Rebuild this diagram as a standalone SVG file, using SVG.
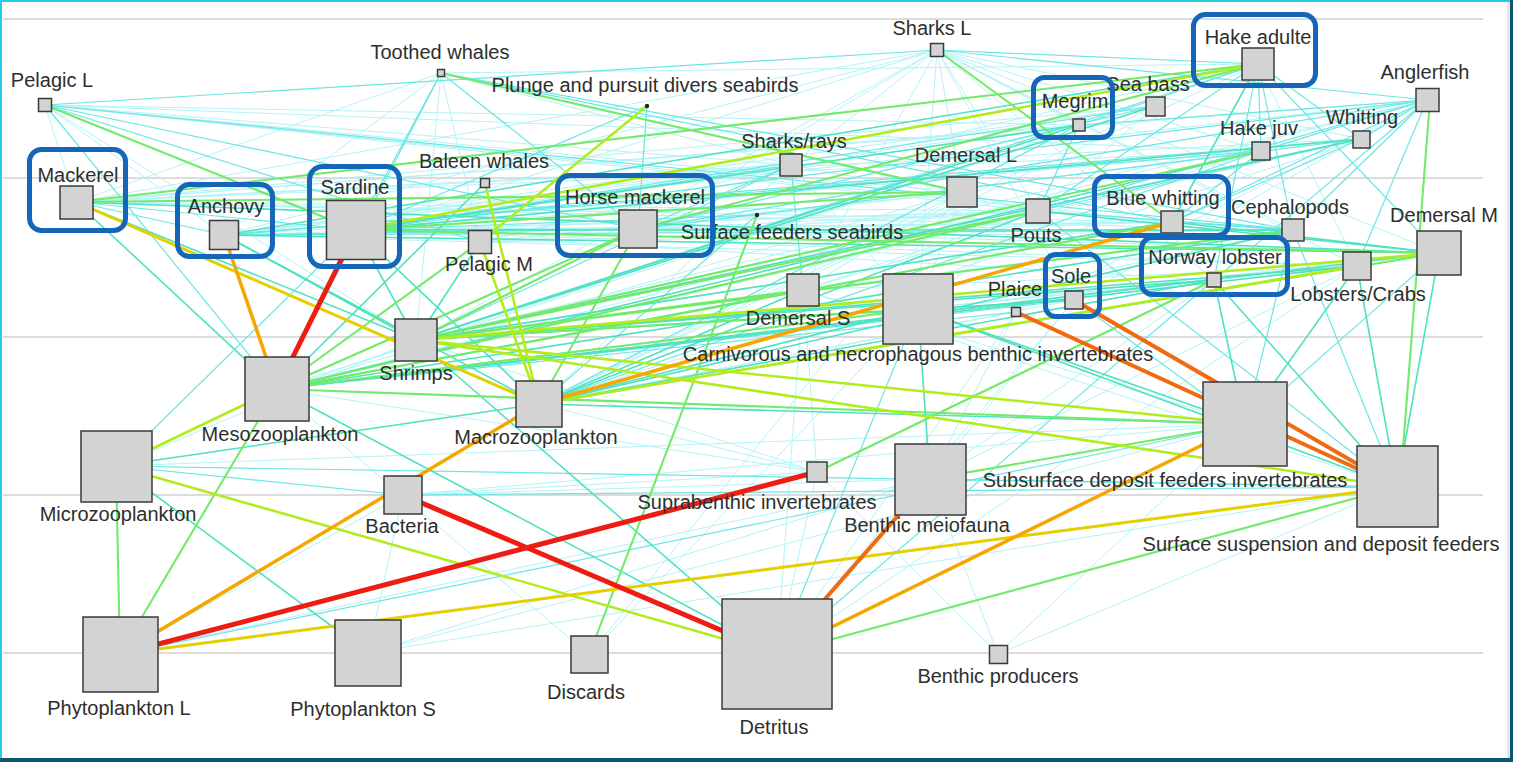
<svg xmlns="http://www.w3.org/2000/svg" width="1513" height="762" viewBox="0 0 1513 762">
<style>
.grid{stroke:#dcdcdc;stroke-width:2}
.c1{stroke:#a8f2f5;stroke-width:1;opacity:.85}
.c2{stroke:#6ae6e4;stroke-width:1.2}
.c3{stroke:#4ee2c0;stroke-width:1.6}
.c4{stroke:#72ea6a;stroke-width:2.1}
.c5{stroke:#b2ec1e;stroke-width:2.6}
.c6{stroke:#e4d000;stroke-width:3}
.c7{stroke:#f6a600;stroke-width:3.5}
.c8{stroke:#f06a12;stroke-width:4}
.c9{stroke:#ee1c12;stroke-width:5}
.n rect{fill:#d3d3d3;stroke:#3a3a3a;stroke-width:1.5}
.n circle{fill:#222}
text{font-family:"Liberation Sans",Arial,sans-serif;font-size:20px;fill:#2e2e2e;text-anchor:middle}
.hl{fill:none;stroke:#1565b8;stroke-width:5}
</style>
<rect x="0" y="0" width="1513" height="762" fill="#0e5574"/>
<rect x="0" y="0" width="1510" height="758" fill="#ffffff"/>
<line x1="1508.5" y1="0" x2="1508.5" y2="758" stroke="#dedede" stroke-width="2"/>
<line x1="0" y1="1" x2="1510" y2="1" stroke="#22cfe2" stroke-width="2"/>
<line x1="1" y1="0" x2="1" y2="758" stroke="#22cfe2" stroke-width="2"/>
<g id="grid">
<line class="grid" x1="3" y1="19" x2="1483" y2="19"/>
<line class="grid" x1="3" y1="178" x2="1483" y2="178"/>
<line class="grid" x1="3" y1="337" x2="1483" y2="337"/>
<line class="grid" x1="3" y1="495" x2="1483" y2="495"/>
<line class="grid" x1="3" y1="653" x2="1483" y2="653"/>
</g>
<g id="connectors" fill="none">
<g class="c1">
<line x1="45" y1="105" x2="76" y2="202"/><line x1="45" y1="105" x2="224" y2="235"/><line x1="45" y1="105" x2="416" y2="340"/><line x1="45" y1="105" x2="791" y2="165"/><line x1="45" y1="105" x2="962" y2="192"/><line x1="45" y1="105" x2="1172" y2="222"/><line x1="45" y1="105" x2="1261" y2="151"/><line x1="45" y1="105" x2="1038" y2="211"/><line x1="45" y1="105" x2="1079" y2="125"/>
<line x1="441" y1="73" x2="76" y2="202"/><line x1="441" y1="73" x2="224" y2="235"/><line x1="441" y1="73" x2="480" y2="242"/><line x1="441" y1="73" x2="1258" y2="64"/><line x1="441" y1="73" x2="1038" y2="211"/><line x1="441" y1="73" x2="416" y2="340"/><line x1="441" y1="73" x2="791" y2="165"/>
<line x1="937" y1="50" x2="791" y2="165"/><line x1="937" y1="50" x2="962" y2="192"/><line x1="937" y1="50" x2="1038" y2="211"/><line x1="937" y1="50" x2="1079" y2="125"/><line x1="937" y1="50" x2="1361" y2="139"/><line x1="937" y1="50" x2="1261" y2="151"/><line x1="937" y1="50" x2="1293" y2="230"/><line x1="937" y1="50" x2="1439" y2="253"/><line x1="937" y1="50" x2="638" y2="229"/><line x1="937" y1="50" x2="356" y2="230"/><line x1="937" y1="50" x2="76" y2="202"/><line x1="937" y1="50" x2="803" y2="290"/><line x1="937" y1="50" x2="918" y2="309"/><line x1="937" y1="50" x2="416" y2="340"/><line x1="937" y1="50" x2="224" y2="235"/><line x1="937" y1="50" x2="1357" y2="266"/><line x1="937" y1="50" x2="1214" y2="280"/><line x1="937" y1="50" x2="1074" y2="300"/>
<line x1="1258" y1="64" x2="1357" y2="266"/><line x1="1258" y1="64" x2="480" y2="242"/><line x1="1258" y1="64" x2="539" y2="404"/>
<line x1="1427" y1="100" x2="76" y2="202"/><line x1="1427" y1="100" x2="224" y2="235"/><line x1="1427" y1="100" x2="803" y2="290"/><line x1="1427" y1="100" x2="1074" y2="300"/><line x1="1427" y1="100" x2="1016" y2="312"/>
<line x1="1361" y1="139" x2="277" y2="389"/><line x1="1361" y1="139" x2="539" y2="404"/>
<line x1="1155" y1="106" x2="1038" y2="211"/><line x1="1155" y1="106" x2="224" y2="235"/><line x1="1155" y1="106" x2="539" y2="404"/>
<line x1="791" y1="165" x2="76" y2="202"/><line x1="791" y1="165" x2="918" y2="309"/><line x1="791" y1="165" x2="1038" y2="211"/><line x1="791" y1="165" x2="224" y2="235"/>
<line x1="962" y1="192" x2="224" y2="235"/><line x1="962" y1="192" x2="803" y2="290"/><line x1="962" y1="192" x2="918" y2="309"/><line x1="962" y1="192" x2="1074" y2="300"/>
<line x1="403" y1="495" x2="817" y2="472"/><line x1="403" y1="495" x2="930" y2="479"/><line x1="403" y1="495" x2="1245" y2="424"/>
<line x1="116" y1="466" x2="1245" y2="424"/><line x1="116" y1="466" x2="416" y2="340"/>
<line x1="368" y1="653" x2="1245" y2="424"/><line x1="368" y1="653" x2="1397" y2="487"/><line x1="368" y1="653" x2="403" y2="495"/><line x1="368" y1="653" x2="930" y2="479"/>
<line x1="120" y1="654" x2="930" y2="479"/><line x1="120" y1="654" x2="403" y2="495"/>
<line x1="777" y1="654" x2="803" y2="290"/><line x1="777" y1="654" x2="1357" y2="266"/><line x1="777" y1="654" x2="817" y2="472"/><line x1="777" y1="654" x2="1074" y2="300"/><line x1="777" y1="654" x2="1016" y2="312"/>
<line x1="998" y1="654" x2="1245" y2="424"/><line x1="998" y1="654" x2="1397" y2="487"/><line x1="998" y1="654" x2="817" y2="472"/><line x1="998" y1="654" x2="930" y2="479"/>
<line x1="817" y1="472" x2="803" y2="290"/><line x1="817" y1="472" x2="539" y2="404"/><line x1="817" y1="472" x2="277" y2="389"/><line x1="817" y1="472" x2="416" y2="340"/>
<line x1="1397" y1="487" x2="803" y2="290"/><line x1="1245" y1="424" x2="803" y2="290"/>
<line x1="930" y1="479" x2="1074" y2="300"/><line x1="930" y1="479" x2="1016" y2="312"/><line x1="930" y1="479" x2="1214" y2="280"/><line x1="930" y1="479" x2="1357" y2="266"/>
<line x1="589" y1="655" x2="277" y2="389"/><line x1="589" y1="655" x2="918" y2="309"/><line x1="589" y1="655" x2="962" y2="192"/>
<line x1="76" y1="202" x2="1079" y2="125"/><line x1="76" y1="202" x2="1155" y2="106"/><line x1="76" y1="202" x2="1361" y2="139"/><line x1="76" y1="202" x2="1261" y2="151"/><line x1="76" y1="202" x2="1293" y2="230"/><line x1="76" y1="202" x2="1038" y2="211"/><line x1="76" y1="202" x2="1172" y2="222"/>
<line x1="224" y1="235" x2="1079" y2="125"/><line x1="224" y1="235" x2="1038" y2="211"/><line x1="224" y1="235" x2="1172" y2="222"/><line x1="224" y1="235" x2="1357" y2="266"/>
<line x1="356" y1="230" x2="1172" y2="222"/><line x1="356" y1="230" x2="1038" y2="211"/><line x1="356" y1="230" x2="1261" y2="151"/><line x1="356" y1="230" x2="1357" y2="266"/><line x1="356" y1="230" x2="1214" y2="280"/>
<line x1="638" y1="229" x2="1172" y2="222"/><line x1="638" y1="229" x2="1038" y2="211"/><line x1="638" y1="229" x2="1261" y2="151"/><line x1="638" y1="229" x2="1079" y2="125"/><line x1="638" y1="229" x2="962" y2="192"/><line x1="638" y1="229" x2="1293" y2="230"/><line x1="638" y1="229" x2="1439" y2="253"/>
<line x1="480" y1="242" x2="962" y2="192"/><line x1="480" y1="242" x2="1172" y2="222"/><line x1="480" y1="242" x2="1293" y2="230"/><line x1="480" y1="242" x2="1038" y2="211"/><line x1="480" y1="242" x2="791" y2="165"/>
<line x1="416" y1="340" x2="1427" y2="100"/>
<line x1="277" y1="389" x2="1427" y2="100"/><line x1="277" y1="389" x2="1155" y2="106"/><line x1="277" y1="389" x2="1079" y2="125"/><line x1="277" y1="389" x2="962" y2="192"/>
<line x1="539" y1="404" x2="962" y2="192"/><line x1="539" y1="404" x2="791" y2="165"/><line x1="539" y1="404" x2="1074" y2="300"/><line x1="539" y1="404" x2="1016" y2="312"/>
<line x1="803" y1="290" x2="1038" y2="211"/><line x1="803" y1="290" x2="1172" y2="222"/><line x1="803" y1="290" x2="1293" y2="230"/><line x1="803" y1="290" x2="1357" y2="266"/>
<line x1="918" y1="309" x2="1038" y2="211"/><line x1="918" y1="309" x2="1293" y2="230"/><line x1="918" y1="309" x2="1357" y2="266"/><line x1="918" y1="309" x2="1214" y2="280"/><line x1="918" y1="309" x2="1439" y2="253"/>
<line x1="1038" y1="211" x2="1172" y2="222"/><line x1="1038" y1="211" x2="1079" y2="125"/>
</g>
<g class="c2">
<line x1="45" y1="105" x2="937" y2="50"/><line x1="45" y1="105" x2="480" y2="242"/><line x1="45" y1="105" x2="638" y2="229"/><line x1="45" y1="105" x2="277" y2="389"/><line x1="45" y1="105" x2="1293" y2="230"/>
<line x1="441" y1="73" x2="356" y2="230"/><line x1="441" y1="73" x2="277" y2="389"/><line x1="441" y1="73" x2="638" y2="229"/><line x1="441" y1="73" x2="1172" y2="222"/><line x1="441" y1="73" x2="1293" y2="230"/>
<line x1="937" y1="50" x2="1258" y2="64"/><line x1="937" y1="50" x2="1427" y2="100"/>
<line x1="1258" y1="64" x2="1079" y2="125"/><line x1="1258" y1="64" x2="1261" y2="151"/><line x1="1258" y1="64" x2="1361" y2="139"/><line x1="1258" y1="64" x2="1038" y2="211"/><line x1="1258" y1="64" x2="1293" y2="230"/><line x1="1258" y1="64" x2="1214" y2="280"/><line x1="1258" y1="64" x2="1439" y2="253"/><line x1="1258" y1="64" x2="416" y2="340"/>
<line x1="1427" y1="100" x2="1172" y2="222"/><line x1="1427" y1="100" x2="1261" y2="151"/><line x1="1427" y1="100" x2="1361" y2="139"/><line x1="1427" y1="100" x2="1079" y2="125"/><line x1="1427" y1="100" x2="638" y2="229"/><line x1="1427" y1="100" x2="356" y2="230"/><line x1="1427" y1="100" x2="1038" y2="211"/><line x1="1427" y1="100" x2="1214" y2="280"/><line x1="1427" y1="100" x2="1357" y2="266"/><line x1="1427" y1="100" x2="1293" y2="230"/>
<line x1="1361" y1="139" x2="1172" y2="222"/><line x1="1361" y1="139" x2="1038" y2="211"/><line x1="1361" y1="139" x2="224" y2="235"/><line x1="1361" y1="139" x2="638" y2="229"/>
<line x1="1261" y1="151" x2="1172" y2="222"/><line x1="1261" y1="151" x2="539" y2="404"/><line x1="1261" y1="151" x2="224" y2="235"/>
<line x1="1155" y1="106" x2="356" y2="230"/><line x1="1155" y1="106" x2="638" y2="229"/>
<line x1="1079" y1="125" x2="1038" y2="211"/><line x1="1079" y1="125" x2="539" y2="404"/>
<line x1="791" y1="165" x2="356" y2="230"/><line x1="791" y1="165" x2="638" y2="229"/><line x1="791" y1="165" x2="803" y2="290"/><line x1="791" y1="165" x2="416" y2="340"/>
<line x1="1293" y1="230" x2="224" y2="235"/><line x1="1293" y1="230" x2="1172" y2="222"/><line x1="1293" y1="230" x2="1038" y2="211"/>
<line x1="1214" y1="280" x2="277" y2="389"/><line x1="1074" y1="300" x2="277" y2="389"/><line x1="1016" y1="312" x2="277" y2="389"/>
<line x1="76" y1="202" x2="224" y2="235"/><line x1="76" y1="202" x2="356" y2="230"/>
<line x1="638" y1="229" x2="224" y2="235"/><line x1="638" y1="229" x2="356" y2="230"/>
<line x1="647" y1="106" x2="638" y2="229"/><line x1="647" y1="106" x2="356" y2="230"/>
<line x1="757" y1="215" x2="539" y2="404"/><line x1="757" y1="215" x2="356" y2="230"/>
<line x1="116" y1="466" x2="403" y2="495"/><line x1="116" y1="466" x2="1397" y2="487"/>
<line x1="403" y1="495" x2="1397" y2="487"/><line x1="120" y1="654" x2="1245" y2="424"/>
<line x1="777" y1="654" x2="918" y2="309"/><line x1="777" y1="654" x2="1214" y2="280"/>
<line x1="930" y1="479" x2="1397" y2="487"/>
<line x1="1245" y1="424" x2="1074" y2="300"/><line x1="1245" y1="424" x2="1439" y2="253"/><line x1="1245" y1="424" x2="1293" y2="230"/>
<line x1="1397" y1="487" x2="1293" y2="230"/><line x1="1397" y1="487" x2="1038" y2="211"/>
<line x1="356" y1="230" x2="116" y2="466"/>
</g>
<g class="c3">
<line x1="76" y1="202" x2="277" y2="389"/><line x1="76" y1="202" x2="416" y2="340"/>
<line x1="224" y1="235" x2="539" y2="404"/><line x1="224" y1="235" x2="416" y2="340"/>
<line x1="356" y1="230" x2="416" y2="340"/><line x1="356" y1="230" x2="539" y2="404"/>
<line x1="116" y1="466" x2="368" y2="653"/><line x1="116" y1="466" x2="539" y2="404"/>
<line x1="277" y1="389" x2="777" y2="654"/><line x1="777" y1="654" x2="416" y2="340"/>
<line x1="480" y1="242" x2="416" y2="340"/><line x1="485" y1="183" x2="277" y2="389"/>
<line x1="1258" y1="64" x2="1172" y2="222"/><line x1="1258" y1="64" x2="224" y2="235"/>
<line x1="1361" y1="139" x2="416" y2="340"/><line x1="1361" y1="139" x2="356" y2="230"/>
<line x1="1261" y1="151" x2="277" y2="389"/>
<line x1="1155" y1="106" x2="416" y2="340"/>
<line x1="1079" y1="125" x2="416" y2="340"/><line x1="1079" y1="125" x2="356" y2="230"/>
<line x1="1439" y1="253" x2="277" y2="389"/><line x1="1439" y1="253" x2="76" y2="202"/><line x1="1439" y1="253" x2="224" y2="235"/><line x1="1439" y1="253" x2="1172" y2="222"/><line x1="1439" y1="253" x2="1038" y2="211"/>
<line x1="1293" y1="230" x2="539" y2="404"/><line x1="1293" y1="230" x2="277" y2="389"/><line x1="1293" y1="230" x2="356" y2="230"/>
<line x1="1038" y1="211" x2="539" y2="404"/>
<line x1="1172" y1="222" x2="416" y2="340"/>
<line x1="1357" y1="266" x2="416" y2="340"/><line x1="1357" y1="266" x2="277" y2="389"/>
<line x1="1214" y1="280" x2="416" y2="340"/><line x1="1214" y1="280" x2="539" y2="404"/>
<line x1="803" y1="290" x2="539" y2="404"/><line x1="803" y1="290" x2="277" y2="389"/>
<line x1="918" y1="309" x2="539" y2="404"/>
<line x1="1074" y1="300" x2="416" y2="340"/>
<line x1="930" y1="479" x2="918" y2="309"/>
<line x1="1245" y1="424" x2="918" y2="309"/><line x1="1245" y1="424" x2="1357" y2="266"/><line x1="1245" y1="424" x2="1214" y2="280"/>
<line x1="1397" y1="487" x2="1357" y2="266"/><line x1="1397" y1="487" x2="1214" y2="280"/><line x1="1397" y1="487" x2="1439" y2="253"/><line x1="1397" y1="487" x2="918" y2="309"/>
<line x1="539" y1="404" x2="1245" y2="424"/>
</g>
<g class="c4">
<line x1="45" y1="105" x2="356" y2="230"/>
<line x1="441" y1="73" x2="962" y2="192"/>
<line x1="937" y1="50" x2="1172" y2="222"/>
<line x1="1258" y1="64" x2="76" y2="202"/><line x1="1258" y1="64" x2="638" y2="229"/>
<line x1="116" y1="466" x2="120" y2="654"/><line x1="277" y1="389" x2="120" y2="654"/>
<line x1="539" y1="404" x2="638" y2="229"/>
<line x1="589" y1="655" x2="757" y2="215"/>
<line x1="777" y1="654" x2="1397" y2="487"/>
<line x1="817" y1="472" x2="1214" y2="280"/>
<line x1="1430" y1="100" x2="1400" y2="487"/>
<line x1="480" y1="242" x2="277" y2="389"/>
<line x1="1293" y1="230" x2="416" y2="340"/><line x1="1261" y1="151" x2="416" y2="340"/>
<line x1="1038" y1="211" x2="277" y2="389"/><line x1="1038" y1="211" x2="416" y2="340"/>
<line x1="1172" y1="222" x2="277" y2="389"/>
<line x1="803" y1="290" x2="416" y2="340"/>
<line x1="918" y1="309" x2="277" y2="389"/><line x1="918" y1="309" x2="416" y2="340"/>
<line x1="638" y1="229" x2="277" y2="389"/><line x1="638" y1="229" x2="416" y2="340"/>
<line x1="1439" y1="253" x2="356" y2="230"/><line x1="1439" y1="253" x2="539" y2="404"/>
<line x1="962" y1="192" x2="76" y2="202"/><line x1="962" y1="192" x2="356" y2="230"/>
<line x1="277" y1="389" x2="1245" y2="424"/>
<line x1="930" y1="479" x2="1245" y2="424"/>
</g>
<g class="c5">
<line x1="116" y1="466" x2="777" y2="654"/>
<line x1="277" y1="389" x2="116" y2="466"/>
<line x1="1258" y1="64" x2="356" y2="230"/>
<line x1="539" y1="404" x2="480" y2="242"/><line x1="539" y1="404" x2="485" y2="183"/>
<line x1="539" y1="404" x2="1357" y2="266"/>
<line x1="416" y1="340" x2="1397" y2="487"/><line x1="416" y1="340" x2="1245" y2="424"/>
<line x1="1439" y1="253" x2="416" y2="340"/>
<line x1="647" y1="106" x2="480" y2="242"/>
</g>
<g class="c6">
<line x1="76" y1="202" x2="539" y2="404"/>
<line x1="120" y1="654" x2="1397" y2="487"/>
</g>
<g class="c7">
<line x1="224" y1="235" x2="277" y2="389"/>
<line x1="120" y1="654" x2="539" y2="404"/>
<line x1="539" y1="404" x2="1172" y2="222"/>
<line x1="777" y1="654" x2="1245" y2="424"/>
</g>
<g class="c8">
<line x1="777" y1="654" x2="930" y2="479"/>
<line x1="1016" y1="312" x2="1397" y2="487"/>
<line x1="1074" y1="300" x2="1397" y2="487"/>
</g>
<g class="c9">
<line x1="356" y1="230" x2="277" y2="389"/>
<line x1="403" y1="495" x2="777" y2="654"/>
<line x1="120" y1="654" x2="817" y2="472"/>
</g>
</g>
<g id="nodes">
<g id="pelagic-l" class="n"><rect x="38.5" y="98.5" width="13" height="13"/><text x="52" y="87">Pelagic L</text></g>
<g id="toothed-whales" class="n"><rect x="437.5" y="69.5" width="7" height="7"/><text x="440" y="59">Toothed whales</text></g>
<g id="plunge-seabirds" class="n"><circle cx="647" cy="106" r="2.2"/><text x="645" y="92">Plunge and pursuit divers seabirds</text></g>
<g id="sharks-l" class="n"><rect x="930.5" y="43.5" width="13" height="13"/><text x="932" y="35">Sharks L</text></g>
<g id="hake-adulte" class="n"><rect x="1242" y="48" width="32" height="32"/><text x="1258" y="44">Hake adulte</text></g>
<g id="megrim" class="n"><rect x="1073" y="119" width="12" height="12"/><text x="1075" y="108">Megrim</text></g>
<g id="sea-bass" class="n"><rect x="1146" y="97" width="19" height="19"/><text x="1148" y="91">Sea bass</text></g>
<g id="anglerfish" class="n"><rect x="1416" y="88.5" width="23" height="23"/><text x="1425" y="79">Anglerfish</text></g>
<g id="whitting" class="n"><rect x="1353" y="131" width="17" height="17"/><text x="1362" y="124">Whitting</text></g>
<g id="hake-juv" class="n"><rect x="1252" y="142" width="18" height="18"/><text x="1259" y="135">Hake juv</text></g>
<g id="sharks-rays" class="n"><rect x="780" y="154" width="22" height="22"/><text x="794" y="148">Sharks/rays</text></g>
<g id="demersal-l" class="n"><rect x="947" y="177" width="30" height="30"/><text x="966" y="162">Demersal L</text></g>
<g id="baleen-whales" class="n"><rect x="480.5" y="178.5" width="9" height="9"/><text x="484" y="168">Baleen whales</text></g>
<g id="mackerel" class="n"><rect x="60" y="186" width="33" height="33"/><text x="78" y="182">Mackerel</text></g>
<g id="anchovy" class="n"><rect x="209.5" y="220.5" width="29" height="29"/><text x="226" y="213">Anchovy</text></g>
<g id="sardine" class="n"><rect x="326.5" y="200.5" width="59" height="59"/><text x="355" y="194">Sardine</text></g>
<g id="horse-mackerel" class="n"><rect x="619" y="210" width="38" height="38"/><text x="635" y="204">Horse mackerel</text></g>
<g id="surface-seabirds" class="n"><circle cx="757" cy="215" r="2.2"/><text x="792" y="239">Surface feeders seabirds</text></g>
<g id="pelagic-m" class="n"><rect x="468.5" y="230.5" width="23" height="23"/><text x="489" y="271">Pelagic M</text></g>
<g id="pouts" class="n"><rect x="1026" y="199" width="24" height="24"/><text x="1036" y="242">Pouts</text></g>
<g id="blue-whitting" class="n"><rect x="1161" y="211" width="22" height="22"/><text x="1163" y="205">Blue whitting</text></g>
<g id="cephalopods" class="n"><rect x="1282" y="219" width="22" height="22"/><text x="1290" y="214">Cephalopods</text></g>
<g id="demersal-m" class="n"><rect x="1417" y="231" width="44" height="44"/><text x="1444" y="222">Demersal M</text></g>
<g id="norway-lobster" class="n"><rect x="1207" y="273" width="14" height="14"/><text x="1215" y="264">Norway lobster</text></g>
<g id="lobsters-crabs" class="n"><rect x="1343" y="252" width="28" height="28"/><text x="1358" y="301">Lobsters/Crabs</text></g>
<g id="sole" class="n"><rect x="1065" y="291" width="18" height="18"/><text x="1071" y="283">Sole</text></g>
<g id="plaice" class="n"><rect x="1011.5" y="307.5" width="9" height="9"/><text x="1015" y="296">Plaice</text></g>
<g id="demersal-s" class="n"><rect x="787" y="274" width="32" height="32"/><text x="798" y="325">Demersal S</text></g>
<g id="carnivorous" class="n"><rect x="883" y="274" width="70" height="70"/><text x="918" y="361">Carnivorous and necrophagous benthic invertebrates</text></g>
<g id="shrimps" class="n"><rect x="395" y="319" width="42" height="42"/><text x="416" y="380">Shrimps</text></g>
<g id="mesozooplankton" class="n"><rect x="245" y="357" width="64" height="64"/><text x="280" y="441">Mesozooplankton</text></g>
<g id="macrozooplankton" class="n"><rect x="516" y="381" width="46" height="46"/><text x="536" y="444">Macrozooplankton</text></g>
<g id="microzooplankton" class="n"><rect x="81" y="431" width="71" height="71"/><text x="118" y="521">Microzooplankton</text></g>
<g id="bacteria" class="n"><rect x="384" y="476" width="38" height="38"/><text x="402" y="533">Bacteria</text></g>
<g id="suprabenthic" class="n"><rect x="807" y="462" width="20" height="20"/><text x="757" y="509">Suprabenthic invertebrates</text></g>
<g id="benthic-meiofauna" class="n"><rect x="895" y="444" width="71" height="71"/><text x="927" y="532">Benthic meiofauna</text></g>
<g id="subsurface" class="n"><rect x="1203" y="382" width="84" height="84"/><text x="1165" y="487">Subsurface deposit feeders invertebrates</text></g>
<g id="surface-suspension" class="n"><rect x="1357" y="446" width="81" height="81"/><text x="1321" y="551">Surface suspension and deposit feeders</text></g>
<g id="phytoplankton-l" class="n"><rect x="83" y="617" width="75" height="75"/><text x="119" y="715">Phytoplankton L</text></g>
<g id="phytoplankton-s" class="n"><rect x="335" y="620" width="66" height="66"/><text x="363" y="716">Phytoplankton S</text></g>
<g id="discards" class="n"><rect x="571" y="636" width="37" height="37"/><text x="586" y="699">Discards</text></g>
<g id="detritus" class="n"><rect x="722" y="599" width="110" height="110"/><text x="774" y="734">Detritus</text></g>
<g id="benthic-producers" class="n"><rect x="989.5" y="645.5" width="18" height="18"/><text x="998" y="683">Benthic producers</text></g>
</g>
<g id="highlights">
<rect class="hl" x="29.5" y="149.5" width="96" height="81" rx="12"/>
<rect class="hl" x="177.5" y="184.5" width="95" height="72" rx="12"/>
<rect class="hl" x="309.5" y="166.5" width="90" height="100" rx="13"/>
<rect class="hl" x="557.5" y="175.5" width="155" height="80" rx="12"/>
<rect class="hl" x="1193.5" y="14.5" width="122" height="71" rx="12"/>
<rect class="hl" x="1033.5" y="77.5" width="79" height="60" rx="11"/>
<rect class="hl" x="1094.5" y="176.5" width="134" height="59" rx="11"/>
<rect class="hl" x="1141.5" y="237.5" width="146" height="57" rx="11"/>
<rect class="hl" x="1045.5" y="254.5" width="54" height="62" rx="10"/>
</g>
</svg>
